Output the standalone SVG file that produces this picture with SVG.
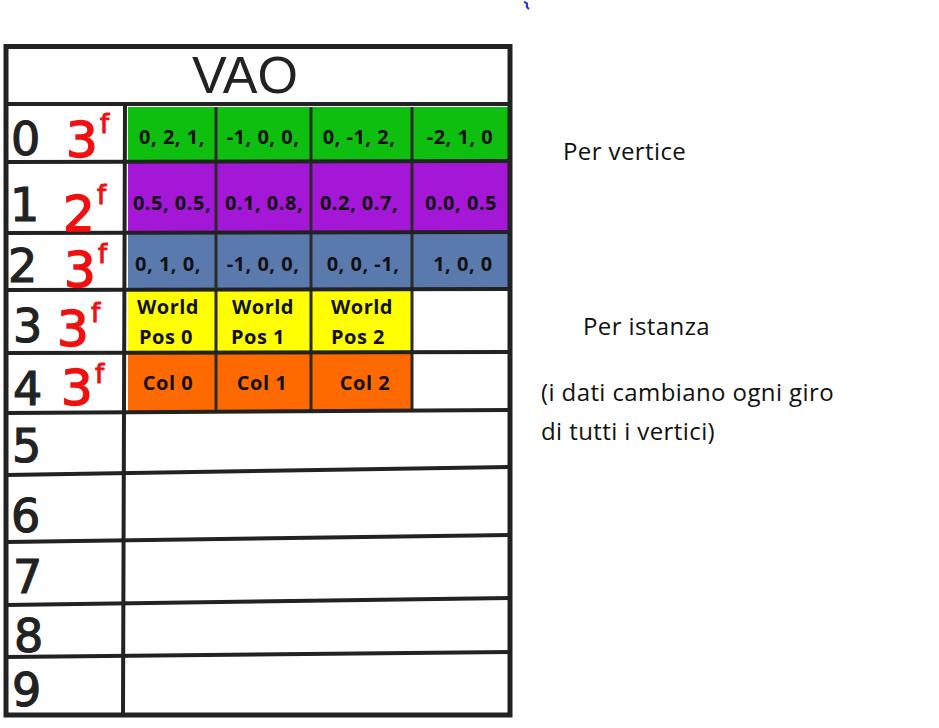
<svg xmlns="http://www.w3.org/2000/svg" width="939" height="728" viewBox="0 0 939 728">
<style>
.ln{stroke:#222;stroke-width:4;fill:none;stroke-linecap:round}
.dv{stroke:#2a2a2a;stroke-width:3;fill:none}
.ct{font-family:"Open Sans","Noto Sans",sans-serif;font-weight:bold;font-size:20px;letter-spacing:0.5px;fill:#111;text-anchor:middle}
.dg{font-family:"DejaVu Sans",sans-serif;font-size:46px;fill:#222;stroke:#222;stroke-width:1.2}
.rd{font-family:"DejaVu Sans",sans-serif;font-size:50px;fill:#f01010;stroke:#f01010;stroke-width:1.5}
.rf{font-family:"DejaVu Sans",sans-serif;font-size:26px;fill:#f01010;stroke:#f01010;stroke-width:1}
.nt{font-family:"Open Sans","Noto Sans",sans-serif;font-size:24px;letter-spacing:0.4px;fill:#111}
</style>
<rect width="939" height="728" fill="#fff"/>
<path d="M524,2 q4,1 3,3 q-1,2 2,4" stroke="#1a2af0" stroke-width="2" fill="none"/>

<g id="table">
<rect x="6" y="46" width="504" height="669" fill="#fff"/>
</g>

<g id="row0">
<rect x="128" y="107" width="382" height="54" fill="#0fbf0f"/>
<text class="ct" x="172" y="144">0, 2, 1,</text>
<text class="ct" x="263" y="144">-1, 0, 0,</text>
<text class="ct" x="359" y="144">0, -1, 2,</text>
<text class="ct" x="460" y="144">-2, 1, 0</text>
</g>
<g id="row1">
<rect x="128" y="162" width="382" height="70" fill="#a417d6"/>
<text class="ct" x="172" y="210">0.5, 0.5,</text>
<text class="ct" x="264" y="210">0.1, 0.8,</text>
<text class="ct" x="359" y="210">0.2, 0.7,</text>
<text class="ct" x="461" y="210">0.0, 0.5</text>
</g>
<g id="row2">
<rect x="128" y="233" width="382" height="56" fill="#5a7aae"/>
<text class="ct" x="168" y="271">0, 1, 0,</text>
<text class="ct" x="263" y="271">-1, 0, 0,</text>
<text class="ct" x="363" y="271">0, 0, -1,</text>
<text class="ct" x="463" y="271">1, 0, 0</text>
</g>
<g id="row3">
<rect x="128" y="291" width="284" height="61" fill="#ffff00"/>
<text class="ct" x="168" y="314">World</text>
<text class="ct" x="166" y="344">Pos 0</text>
<text class="ct" x="263" y="314">World</text>
<text class="ct" x="258" y="344">Pos 1</text>
<text class="ct" x="362" y="314">World</text>
<text class="ct" x="358" y="344">Pos 2</text>
</g>
<g id="row4">
<rect x="128" y="354" width="284" height="57" fill="#ff6a00"/>
<text class="ct" x="168" y="390">Col 0</text>
<text class="ct" x="262" y="390">Col 1</text>
<text class="ct" x="365" y="390">Col 2</text>
</g>

<g id="grid">
<line class="dv" x1="216" y1="107" x2="216" y2="411"/>
<line class="dv" x1="311" y1="107" x2="311" y2="411"/>
<line class="dv" x1="412" y1="107" x2="412" y2="411"/>
<line class="ln" x1="6" y1="104" x2="510" y2="104"/>
<line class="ln" x1="6" y1="162" x2="510" y2="161"/>
<line class="ln" x1="6" y1="233" x2="510" y2="232"/>
<line class="ln" x1="6" y1="290" x2="510" y2="289"/>
<line class="ln" x1="6" y1="353" x2="510" y2="352"/>
<line class="ln" x1="6" y1="413" x2="510" y2="410"/>
<line class="ln" x1="6" y1="475" x2="510" y2="467"/>
<line class="ln" x1="6" y1="542" x2="510" y2="535"/>
<line class="ln" x1="6" y1="605" x2="510" y2="598"/>
<line class="ln" x1="6" y1="657" x2="510" y2="652"/>
<line class="ln" x1="125" y1="104" x2="123" y2="715"/>
<rect x="6" y="46.5" width="504" height="668.5" fill="none" stroke="#222" stroke-width="5"/>
</g>

<g id="title">
<text x="245" y="93" font-family="Liberation Sans, sans-serif" font-size="52" fill="#222" text-anchor="middle">VAO</text>
</g>

<g id="labels">
<text class="dg" x="11" y="155">0</text>
<text class="rd" x="66" y="157">3</text><text class="rf" x="100" y="133">f</text>
<text class="dg" x="10" y="221">1</text>
<text class="rd" x="63" y="231">2</text><text class="rf" x="97" y="204">f</text>
<text class="dg" x="8" y="282">2</text>
<text class="rd" x="64" y="287">3</text><text class="rf" x="98" y="263">f</text>
<text class="dg" x="13" y="342">3</text>
<text class="rd" x="57" y="346">3</text><text class="rf" x="91" y="322">f</text>
<text class="dg" x="13" y="405">4</text>
<text class="rd" x="61" y="405">3</text><text class="rf" x="95" y="383">f</text>
<text class="dg" x="12" y="462">5</text>
<text class="dg" x="11" y="532">6</text>
<text class="dg" x="13" y="593">7</text>
<text class="dg" x="14" y="652" font-size="44">8</text>
<text class="dg" x="12" y="706" font-size="44">9</text>
</g>

<g id="notes">
<text class="nt" x="563" y="160">Per vertice</text>
<text class="nt" x="583" y="335">Per istanza</text>
<text class="nt" x="541" y="401">(i dati cambiano ogni giro</text>
<text class="nt" x="541" y="440">di tutti i vertici)</text>
</g>
</svg>
